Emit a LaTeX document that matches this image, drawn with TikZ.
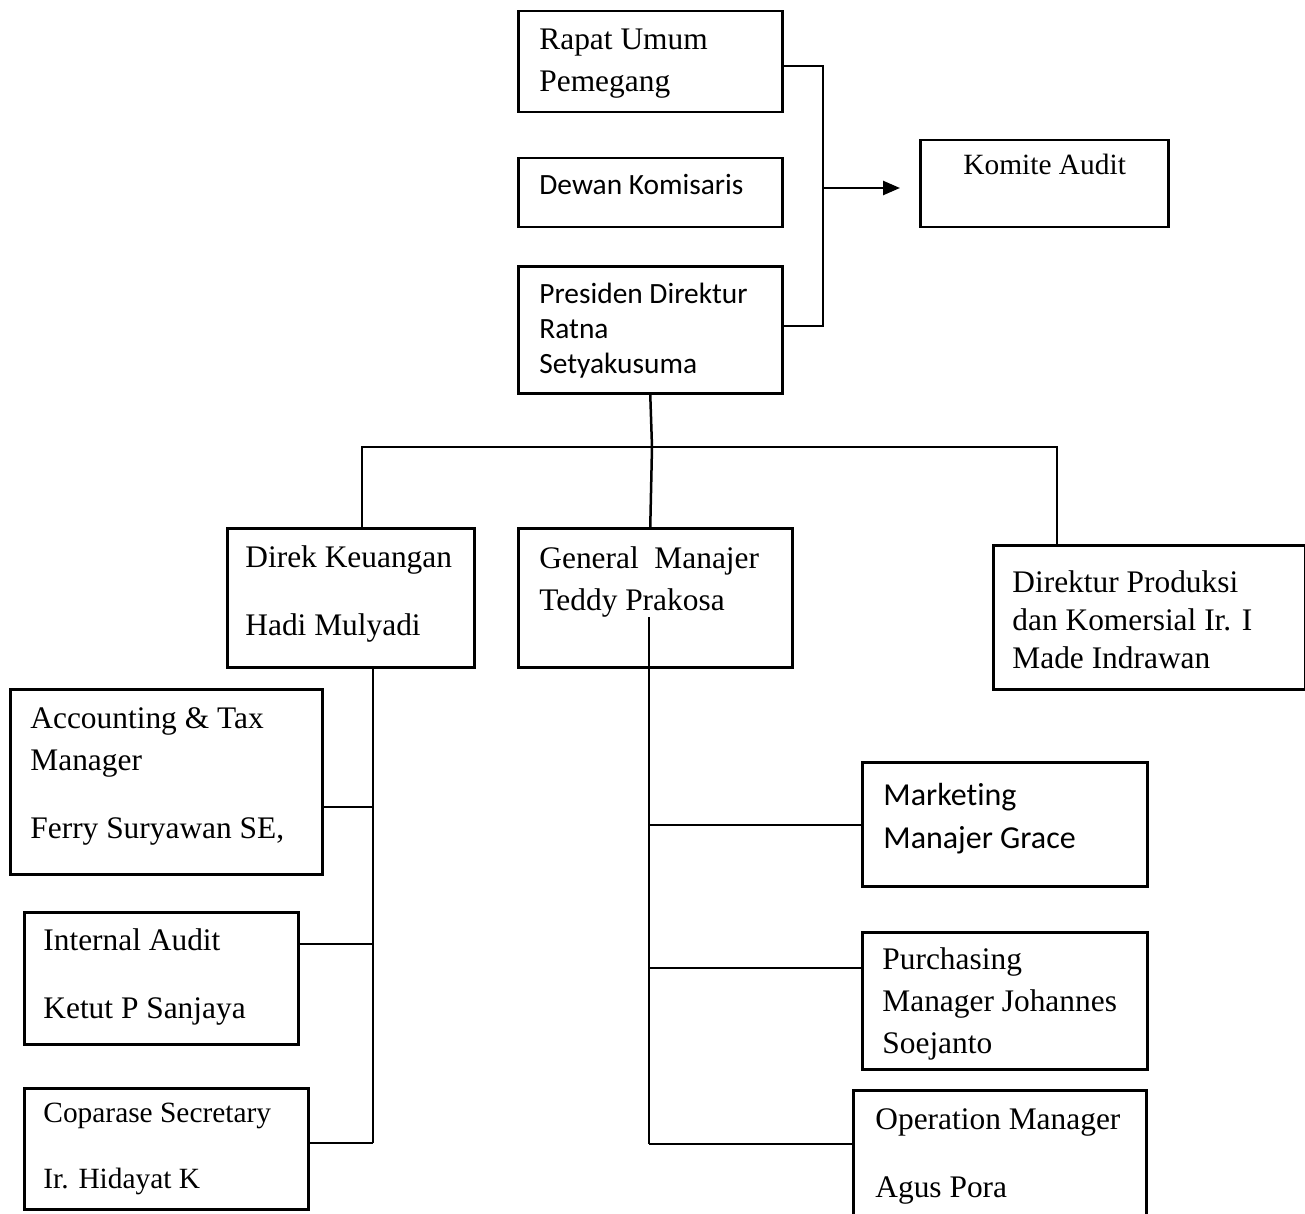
\documentclass[tikz,border=0pt]{standalone}
\usepackage{fontspec}
\setmainfont{Liberation Serif}
\newfontfamily\calibri[Ligatures=NoCommon]{Carlito}
\usetikzlibrary{arrows.meta}
\usetikzlibrary{calc}

\tikzset{
	unitbox/.style={draw, line width=1.25pt, rectangle, inner sep=0pt},
	rm/.style={anchor=base west, inner sep=0pt, align=left, font=\fontsize{15.7}{21}\selectfont},
	rmsmall/.style={rm, font=\fontsize{14.7}{19.6}\selectfont},
	sf/.style={anchor=base west, inner sep=0pt, align=left, font=\calibri\fontsize{14.7}{17.5}\selectfont},
	link/.style={line width=1.25pt}
}

\newcommand{\orgbox}[5] % name, left, top, right, bottom in px
{
	\node[unitbox, anchor=north west, minimum width={(#4-#2)*0.5pt}, minimum height={(#5-#3)*0.5pt}] (#1) at (#2,#3) {};
}

\begin{document}
\begin{tikzpicture}[x=0.5pt, y=-0.5pt]
	% page 1305 x 1214 px, texts placed at the baseline of their last line
	\useasboundingbox (0,0) rectangle (1305,1214);

	% top level
	\orgbox{rapat}{517}{10}{781}{111};
	\orgbox{dewan}{517}{157}{781}{226};
	\orgbox{presiden}{517}{265}{781}{392};
	\orgbox{komite}{919}{139}{1167}{226};
	\node[rm] (rapatTxt) at (539,92) {Rapat Umum\\Pemegang};
	\node[sf] (dewanTxt) at (539,195) {Dewan Komisaris};
	\node[sf] (presidenTxt) at (539,373) {Presiden Direktur\\Ratna\\Setyakusuma};
	\node[rmsmall] (komiteTxt) at (963,175) {Komite Audit};

	% directors
	\orgbox{direk}{226}{527}{473}{666};
	\orgbox{general}{517}{527}{791}{666};
	\orgbox{produksi}{992}{544}{1304}{688};
	\node[rm] (direkTxt) at (245,635) {Direk Keuangan\\[13pt]Hadi Mulyadi};
	\node[rm] (generalTxt) at (539,610) {General~ Manajer\\Teddy Prakosa};
	\node[rm, font=\fontsize{15.7}{19}\selectfont] (produksiTxt) at (1012,668) {Direktur Produksi\\dan Komersial Ir. I\\Made Indrawan};

	% finance side
	\orgbox{accounting}{9}{688}{321}{873};
	\orgbox{internal}{23}{911}{297}{1043};
	\orgbox{coparase}{23}{1087}{307}{1208};
	\node[rm] (accountingTxt) at (30,838) {Accounting \& Tax\\Manager\\[13pt]Ferry Suryawan SE,};
	\node[rm] (internalTxt) at (43,1018) {Internal Audit\\[13pt]Ketut P Sanjaya};
	\node[rmsmall] (coparaseTxt) at (43,1188) {Coparase Secretary\\[13pt]Ir. Hidayat K};

	% general manager side
	\orgbox{marketing}{861}{761}{1146}{885};
	\orgbox{purchasing}{861}{931}{1146}{1068};
	\orgbox{operation}{852}{1089}{1145}{1240};
	\node[sf, font=\calibri\fontsize{16}{21.5}\selectfont] (marketingTxt) at (883,848) {Marketing\\Manajer Grace};
	\node[rm] (purchasingTxt) at (882,1053) {Purchasing\\Manager Johannes\\Soejanto};
	\node[rm] (operationTxt) at (875,1197) {Operation Manager\\[13pt]Agus Pora};

	% bus to komite audit
	\coordinate (busTop) at (823,66);
	\coordinate (busBot) at (823,326);
	\coordinate (busMid) at (823,188);
	\draw[link] (busTop -| rapat.east) -- (busTop) -- (busBot) -- (busBot -| presiden.east);
	\draw[link, -{Triangle[length=8.5pt, width=7pt]}, shorten >=9.5pt] (busMid) -- (busMid -| komite.west);

	% presiden to directors
	\coordinate (split) at (652,447);
	\coordinate (barL) at (362,447);
	\coordinate (barR) at (1057,447);
	\draw[link] (presiden.south) -- (split) -- ([xshift=-2.5pt]general.north);
	\draw[link] (barL |- direk.north) -- (barL) -- (barR) -- (barR |- produksi.north);

	% direk keuangan trunk
	\coordinate (tapAcc) at (373,807);
	\coordinate (tapInt) at (373,944);
	\coordinate (tapCop) at (373,1143);
	\draw[link] (direk.south -| tapCop) -- (tapCop);
	\draw[link] (tapAcc) -- (tapAcc -| accounting.east);
	\draw[link] (tapInt) -- (tapInt -| internal.east);
	\draw[link] (tapCop) -- (tapCop -| coparase.east);

	% general manajer trunk
	\coordinate (gmTop) at (649,617);
	\coordinate (tapMkt) at (649,825);
	\coordinate (tapPur) at (649,968);
	\coordinate (tapOpr) at (649,1144);
	\draw[link] (gmTop) -- (tapOpr);
	\draw[link] (tapMkt) -- (tapMkt -| marketing.west);
	\draw[link] (tapPur) -- (tapPur -| purchasing.west);
	\draw[link] (tapOpr) -- (tapOpr -| operation.west);
\end{tikzpicture}
\end{document}
